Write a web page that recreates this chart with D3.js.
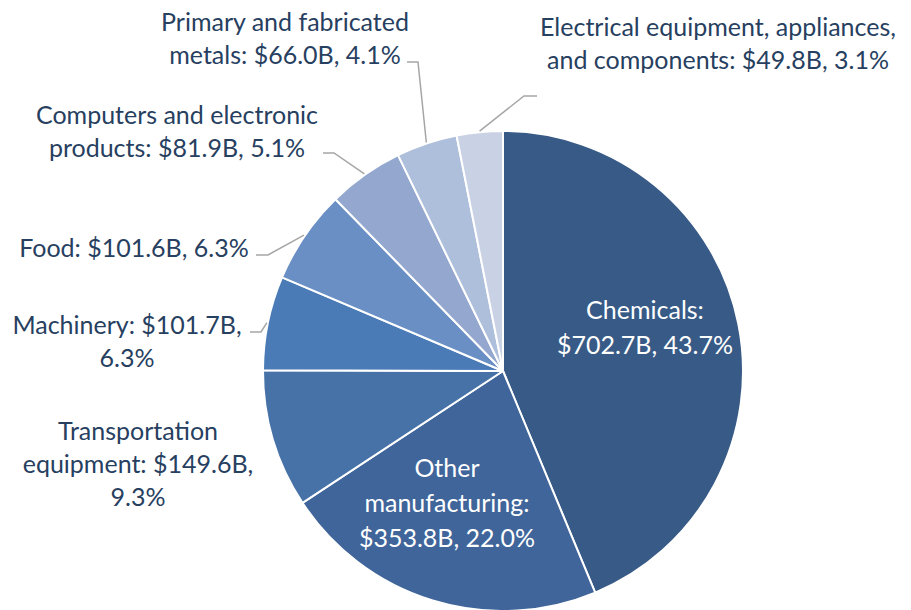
<!DOCTYPE html>
<meta charset="utf-8">
<style>
  body { margin: 0; background: #fff; }
  text { font-family: Lato, "Open Sans", sans-serif; font-size: 25px; }
</style>
<svg width="911" height="610"></svg>
<script src="https://d3js.org/d3.v7.min.js"></script>
<script>

var categories = ["Chemicals", "Other manufacturing", "Transportation equipment", "Machinery",
                  "Food", "Computers and electronic products", "Primary and fabricated metals",
                  "Electrical equipment, appliances, and components"];
var values = [702.7, 353.8, 149.6, 101.7, 101.6, 81.9, 66.0, 49.8];
var shares = ["43.7%", "22.0%", "9.3%", "6.3%", "6.3%", "5.1%", "4.1%", "3.1%"];
var labelLines = [
    ["Chemicals:", "$702.7B, 43.7%"],
    ["Other", "manufacturing:", "$353.8B, 22.0%"],
    ["Transportation", "equipment: $149.6B,", "9.3%"],
    ["Machinery: $101.7B,", "6.3%"],
    ["Food: $101.6B, 6.3%"],
    ["Computers and electronic", "products: $81.9B, 5.1%"],
    ["Primary and fabricated", "metals: $66.0B, 4.1%"],
    ["Electrical equipment, appliances,", "and components: $49.8B, 3.1%"]
];
var colors = ["#375a86", "#3f659a", "#4672a8", "#4a7bb7", "#6a8fc4", "#94a8cf", "#aebfdb", "#c9d2e5"];

// label placement (layout, not data): text centre x, first baseline y, leader start/elbow
var labelPos = [
    {x: 645, y: 319, inside: true},
    {x: 447, y: 477, inside: true},
    {x: 138, y: 440},
    {x: 127, y: 334, lead: [[250, 332], [261, 332]]},
    {x: 134, y: 257, lead: [[256, 255], [268, 255]]},
    {x: 177, y: 124, lead: [[323, 153], [334, 153]]},
    {x: 285, y: 31,  lead: [[407, 62], [418, 62]]},
    {x: 718, y: 36,  lead: [[537, 96], [524, 96]]}
];

var svg = d3.select("svg"),
    cx = 503, cy = 371, radius = 240;

var g = svg.append("g").attr("transform", "translate(" + cx + "," + cy + ")");

var pie = d3.pie().sort(null).value(d => d);
var arcs = pie(values);

var arc = d3.arc().innerRadius(0).outerRadius(radius);

g.selectAll("path.slice")
    .data(arcs)
    .enter().append("path")
    .attr("class", "slice")
    .attr("d", arc)
    .attr("fill", (d, i) => colors[i])
    .attr("stroke", "#fff")
    .attr("stroke-width", 2)
    .attr("stroke-linejoin", "round");

// leader lines
var edge = d3.arc().innerRadius(radius + 1).outerRadius(radius + 1);
arcs.forEach(function (d, i) {
    var p = labelPos[i];
    if (!p.lead) return;
    var c = edge.centroid(d);
    var pts = p.lead.concat([[c[0] + cx, c[1] + cy]]);
    svg.append("path")
        .attr("d", d3.line()(pts))
        .attr("fill", "none")
        .attr("stroke", "#a6a6a6")
        .attr("stroke-width", 1.5);
});

// labels
labelLines.forEach(function (lines, i) {
    var p = labelPos[i];
    var t = svg.append("text")
        .attr("text-anchor", "middle")
        .attr("fill", p.inside ? "#fff" : "#27405f");
    lines.forEach(function (s, j) {
        t.append("tspan")
            .attr("x", p.x)
            .attr("y", p.y + j * (p.inside ? 35 : 33))
            .text(s);
    });
});

</script>
